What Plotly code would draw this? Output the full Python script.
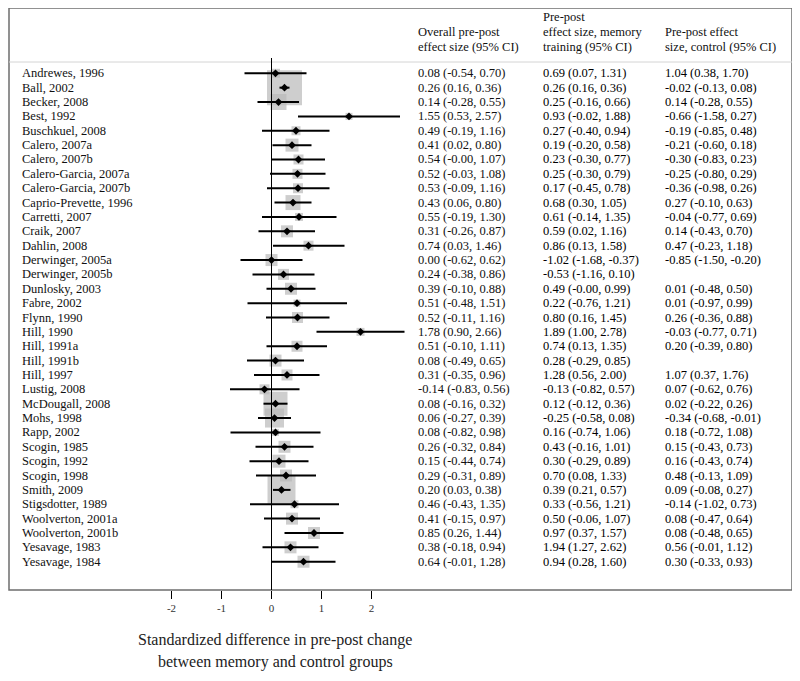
import plotly.graph_objects as go

studies = ["Andrewes, 1996", "Ball, 2002", "Becker, 2008", "Best, 1992", "Buschkuel, 2008",
           "Calero, 2007a", "Calero, 2007b", "Calero-Garcia, 2007a", "Calero-Garcia, 2007b",
           "Caprio-Prevette, 1996", "Carretti, 2007", "Craik, 2007", "Dahlin, 2008",
           "Derwinger, 2005a", "Derwinger, 2005b", "Dunlosky, 2003", "Fabre, 2002", "Flynn, 1990",
           "Hill, 1990", "Hill, 1991a", "Hill, 1991b", "Hill, 1997", "Lustig, 2008",
           "McDougall, 2008", "Mohs, 1998", "Rapp, 2002", "Scogin, 1985", "Scogin, 1992",
           "Scogin, 1998", "Smith, 2009", "Stigsdotter, 1989", "Woolverton, 2001a",
           "Woolverton, 2001b", "Yesavage, 1983", "Yesavage, 1984"]

overall_es = [0.08, 0.26, 0.14, 1.55, 0.49, 0.41, 0.54, 0.52, 0.53, 0.43, 0.55, 0.31, 0.74,
              0.00, 0.24, 0.39, 0.51, 0.52, 1.78, 0.51, 0.08, 0.31, -0.14, 0.08, 0.06, 0.08,
              0.26, 0.15, 0.29, 0.20, 0.46, 0.41, 0.85, 0.38, 0.64]
overall_lo = [-0.54, 0.16, -0.28, 0.53, -0.19, 0.02, -0.0, -0.03, -0.09, 0.06, -0.19, -0.26, 0.03,
              -0.62, -0.38, -0.10, -0.48, -0.11, 0.90, -0.10, -0.49, -0.35, -0.83, -0.16, -0.27, -0.82,
              -0.32, -0.44, -0.31, 0.03, -0.43, -0.15, 0.26, -0.18, -0.01]
overall_hi = [0.70, 0.36, 0.55, 2.57, 1.16, 0.80, 1.07, 1.08, 1.16, 0.80, 1.30, 0.87, 1.46,
              0.62, 0.86, 0.88, 1.51, 1.16, 2.66, 1.11, 0.65, 0.96, 0.56, 0.32, 0.39, 0.98,
              0.84, 0.74, 0.89, 0.38, 1.35, 0.97, 1.44, 0.94, 1.28]

memory_es = [0.69, 0.26, 0.25, 0.93, 0.27, 0.19, 0.23, 0.25, 0.17, 0.68, 0.61, 0.59, 0.86,
             -1.02, -0.53, 0.49, 0.22, 0.80, 1.89, 0.74, 0.28, 1.28, -0.13, 0.12, -0.25, 0.16,
             0.43, 0.30, 0.70, 0.39, 0.33, 0.50, 0.97, 1.94, 0.94]
memory_lo = [0.07, 0.16, -0.16, -0.02, -0.40, -0.20, -0.30, -0.30, -0.45, 0.30, -0.14, 0.02, 0.13,
             -1.68, -1.16, -0.0, -0.76, 0.16, 1.00, 0.13, -0.29, 0.56, -0.82, -0.12, -0.58, -0.74,
             -0.16, -0.29, 0.08, 0.21, -0.56, -0.06, 0.37, 1.27, 0.28]
memory_hi = [1.31, 0.36, 0.66, 1.88, 0.94, 0.58, 0.77, 0.79, 0.78, 1.05, 1.35, 1.16, 1.58,
             -0.37, 0.10, 0.99, 1.21, 1.45, 2.78, 1.35, 0.85, 2.00, 0.57, 0.36, 0.08, 1.06,
             1.01, 0.89, 1.33, 0.57, 1.21, 1.07, 1.57, 2.62, 1.60]

control_es = [1.04, -0.02, 0.14, -0.66, -0.19, -0.21, -0.30, -0.25, -0.36, 0.27, -0.04, 0.14, 0.47,
              -0.85, None, 0.01, 0.01, 0.26, -0.03, 0.20, None, 1.07, 0.07, 0.02, -0.34, 0.18,
              0.15, 0.16, 0.48, 0.09, -0.14, 0.08, 0.08, 0.56, 0.30]
control_lo = [0.38, -0.13, -0.28, -1.58, -0.85, -0.60, -0.83, -0.80, -0.98, -0.10, -0.77, -0.43, -0.23,
              -1.50, None, -0.48, -0.97, -0.36, -0.77, -0.39, None, 0.37, -0.62, -0.22, -0.68, -0.72,
              -0.43, -0.43, -0.13, -0.08, -1.02, -0.47, -0.48, -0.01, -0.33]
control_hi = [1.70, 0.08, 0.55, 0.27, 0.48, 0.18, 0.23, 0.29, 0.26, 0.63, 0.69, 0.70, 1.18,
              -0.20, None, 0.50, 0.99, 0.88, 0.71, 0.80, None, 1.76, 0.76, 0.26, -0.01, 1.08,
              0.73, 0.74, 1.09, 0.27, 0.73, 0.64, 0.65, 1.12, 0.93]

x_ticks = [-2, -1, 0, 1, 2]
headers = [["Overall pre-post", "effect size (95% CI)"],
           ["Pre-post", "effect size, memory", "training (95% CI)"],
           ["Pre-post effect", "size, control (95% CI)"]]
x_title = ["Standardized difference in pre-post change", "between memory and control groups"]

# visual box sizes (px) reflecting study weights
box_size = [9, 35, 16, 7, 9, 13, 10, 10, 10, 15, 8, 12, 10, 12, 11, 12, 7, 11, 8, 11, 12, 11, 10,
            24, 19, 7, 12, 13, 12, 28, 8, 12, 12, 12, 12]

FONT = "Liberation Serif"
n = len(studies)
ys = [-i for i in range(n)]

# geometry in page pixels (the page body adds an 8px margin)
OFF = 8
W, H = 800 - 2 * OFF, 681 - 2 * OFF
PLOT_L, PLOT_R, PLOT_T, PLOT_B = 9, 792, 8, 590   # page px of plot area
L = PLOT_L - OFF
R = (W + OFF) - PLOT_R
T = PLOT_T - OFF
B = (H + OFF) - PLOT_B
plot_w = PLOT_R - PLOT_L
plot_h = PLOT_B - PLOT_T
PX0 = 271.5      # page pixel of x=0
PXU = 50.0       # pixels per unit
xmin = -(PX0 - PLOT_L) / PXU
xmax = xmin + plot_w / PXU
row0_px, row_step = 73.3, 14.365
ymax = (row0_px - PLOT_T) / row_step
ymin = ymax - plot_h / row_step


def xd(px):
    return (px - PX0) / PXU


def yp(px):
    return (PLOT_B - px) / plot_h


fig = go.Figure()

# weight boxes
fig.add_trace(go.Scatter(x=overall_es, y=ys, mode="markers",
                         marker=dict(symbol="square", size=box_size, color="#b9b9b9",
                                     line=dict(width=0)),
                         hoverinfo="skip", showlegend=False))

# CI lines
lx, ly = [], []
for lo, hi, y in zip(overall_lo, overall_hi, ys):
    lx += [lo, hi, None]
    ly += [y, y, None]
fig.add_trace(go.Scatter(x=lx, y=ly, mode="lines", line=dict(color="black", width=2),
                         hoverinfo="skip", showlegend=False))

# point estimates
fig.add_trace(go.Scatter(x=overall_es, y=ys, mode="markers",
                         marker=dict(symbol="diamond", size=6, color="black"),
                         showlegend=False))


def fmt(e, lo, hi):
    if e is None:
        return ""
    return f"{e:.2f} ({lo:.2f}, {hi:.2f})"


ann = []
for i in range(n):
    ann.append(dict(x=xd(20), y=ys[i], xref="x", yref="y", text=studies[i], showarrow=False,
                    xanchor="left", yanchor="middle", font=dict(family=FONT, size=12.5, color="#111")))
    ann.append(dict(x=xd(416), y=ys[i], xref="x", yref="y",
                    text=fmt(overall_es[i], overall_lo[i], overall_hi[i]), showarrow=False,
                    xanchor="left", yanchor="middle", font=dict(family=FONT, size=12.5, color="#111")))
    ann.append(dict(x=xd(541), y=ys[i], xref="x", yref="y",
                    text=fmt(memory_es[i], memory_lo[i], memory_hi[i]), showarrow=False,
                    xanchor="left", yanchor="middle", font=dict(family=FONT, size=12.5, color="#000")))
    t3 = fmt(control_es[i], control_lo[i], control_hi[i])
    if t3:
        ann.append(dict(x=xd(663), y=ys[i], xref="x", yref="y", text=t3, showarrow=False,
                        xanchor="left", yanchor="middle", font=dict(family=FONT, size=12.5, color="#000")))

# headers
col_x = [416, 541, 663]
line_px = {2: [32, 47], 3: [17, 32, 47]}
for cx, hl in zip(col_x, headers):
    for txt, py in zip(hl, line_px[len(hl)]):
        ann.append(dict(x=xd(cx), y=yp(py), xref="x", yref="paper", text=txt, showarrow=False,
                        xanchor="left", yanchor="middle", font=dict(family=FONT, size=12.5, color="#111")))

# x title
for txt, py in zip(x_title, [640, 662]):
    ann.append(dict(x=xd(275), y=yp(py), xref="x", yref="paper", text=txt, showarrow=False,
                    xanchor="center", yanchor="middle", font=dict(family=FONT, size=16, color="#222")))

shapes = [
    dict(type="rect", xref="paper", yref="paper", x0=0, x1=1, y0=0, y1=1,
         line=dict(color="#6e6e6e", width=1.5)),
    dict(type="line", xref="paper", yref="paper", x0=0, x1=1, y0=yp(62), y1=yp(62),
         line=dict(color="#d4d4d4", width=1)),
    dict(type="line", xref="x", yref="paper", x0=0, x1=0, y0=0, y1=yp(58),
         line=dict(color="black", width=1)),
]

fig.update_layout(
    width=W, height=H,
    margin=dict(l=L, r=R, t=T, b=B, pad=0),
    paper_bgcolor="white", plot_bgcolor="white",
    annotations=ann, shapes=shapes,
    xaxis=dict(range=[xmin, xmax], tickvals=x_ticks, ticktext=[str(v) for v in x_ticks],
               ticks="outside", ticklen=8, tickcolor="black", tickwidth=1,
               showgrid=False, zeroline=False, showline=False,
               tickfont=dict(family=FONT, size=11, color="#333")),
    yaxis=dict(range=[ymin, ymax], showticklabels=False, showgrid=False, zeroline=False,
               showline=False, ticks=""),
    showlegend=False,
)

fig.write_html("out.html")
